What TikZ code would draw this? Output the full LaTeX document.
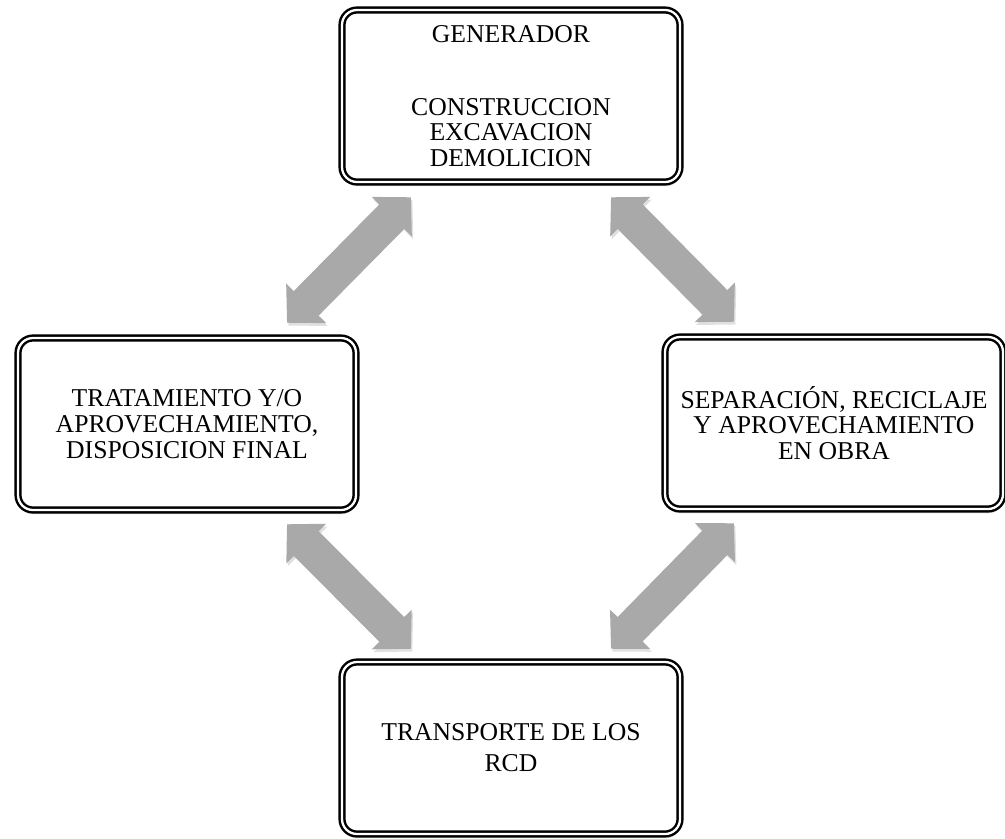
\documentclass[tikz,border=0pt]{standalone}
\usepackage{fontspec}
\setmainfont{Liberation Serif}
\usetikzlibrary{positioning,arrows.meta,shadows}
\definecolor{arrowgray}{RGB}{169,169,169}

\begin{document}
\begin{tikzpicture}[>=Triangle, thick,
    main node/.style={rounded corners=0.3cm, draw, line width=1.4pt, double=white, double distance=1.3pt,
        fill=white, minimum width=6.76cm, minimum height=3.44cm, inner sep=0pt, align=center,
        font=\fontsize{14.6}{14.6}\selectfont,
        drop shadow={opacity=0.18, shadow xshift=0.4pt, shadow yshift=-2.5pt}},
    big arrow/.style={arrowgray, line width=0.7cm,
        {Triangle[length=0pt 0.78, width=0pt 1.56]}-{Triangle[length=0pt 0.78, width=0pt 1.56]},
        preaction={draw=black!12, transform canvas={shift={(0.8pt,-1.6pt)}}}}]

    \useasboundingbox (0,0) rectangle (20.1,-16.76);

    \node[main node] (gen) at (10.22,-1.92) {GENERADOR\\[27pt]CONSTRUCCION\\EXCAVACION\\DEMOLICION};
    \node[main node] (trat) [on grid, below left=6.56cm and 6.48cm of gen] {TRATAMIENTO Y/O\\APROVECHAMIENTO,\\DISPOSICION FINAL};
    \node[main node] (sep) [on grid, below right=6.54cm and 6.46cm of gen] {SEPARACIÓN, RECICLAJE\\Y APROVECHAMIENTO\\EN OBRA};
    \node[main node] (trans) [on grid, below=13.04cm of gen] {TRANSPORTE DE LOS\\[3pt]RCD};

    \draw[big arrow] ([shift={(-2,-0.28)}]gen.south) -- ([shift={(2,0.28)}]trat.north);
    \draw[big arrow] ([shift={(2,-0.28)}]gen.south) -- ([shift={(-2,0.28)}]sep.north);
    \draw[big arrow] ([shift={(2,-0.26)}]trat.south) -- ([shift={(-2,0.24)}]trans.north);
    \draw[big arrow] ([shift={(-2,-0.26)}]sep.south) -- ([shift={(2,0.24)}]trans.north);

\end{tikzpicture}
\end{document}
